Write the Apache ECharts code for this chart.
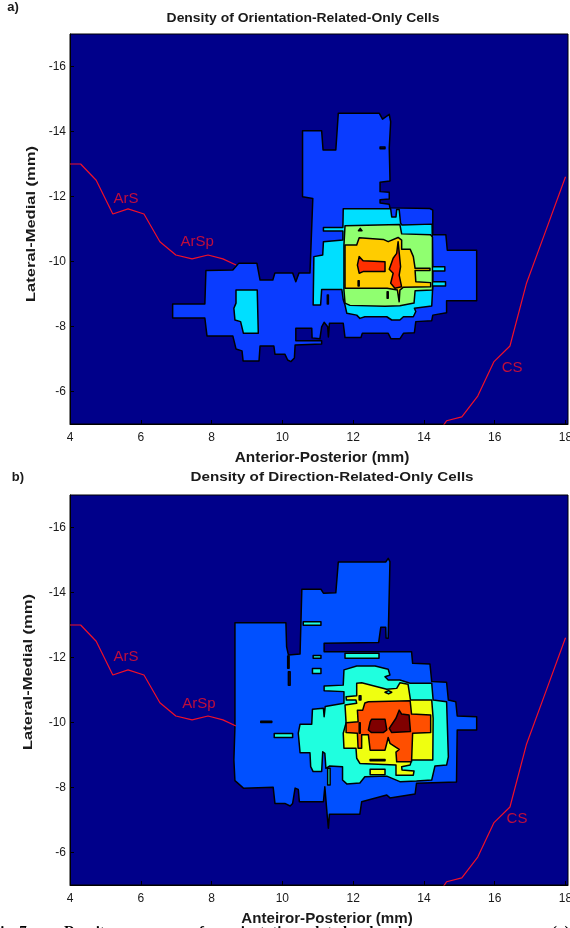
<!DOCTYPE html>
<html><head><meta charset="utf-8">
<style>html,body{margin:0;padding:0;background:#fff;overflow:hidden}#c{width:570px;height:928px}</style>
<script src="https://cdn.jsdelivr.net/npm/echarts@6/dist/echarts.min.js"></script>
</head><body><div id="c"></div>
<script>
const xTicks=[4,6,8,10,12,14,16,18];
const yTicks=[-16,-14,-12,-10,-8,-6];
const sulcus=[[4,-13],[4.3,-13],[4.74,-12.5],[5.21,-11.46],[5.64,-11.62],[6.09,-11.46],[6.54,-10.61],[6.99,-10.2],[7.45,-10.08],[7.9,-10.2],[8.32,-10.08],[8.69,-9.89]];
const cs=[[18,-12.61],[17.42,-10.88],[16.9,-9.34],[16.43,-7.4],[15.98,-6.92],[15.52,-5.86],[15.07,-5.22],[14.64,-5.1],[14.54,-4.94]];
const labelsA=[['ArS',5.58,-11.92],['ArSp',7.59,-10.6],['CS',16.49,-6.72]];
const labelsB=[['ArS',5.58,-12.02],['ArSp',7.64,-10.57],['CS',16.63,-7.03]];
const coloursA=['#00008a','#0a3cff','#00dfff','#90ff70','#ffcc00','#ff3000'];
const coloursB=['#00008a','#0050ff','#1fffdf','#efff10','#ff4f00','#800000'];

const a1=[[6.9,-8.69],[7.81,-8.69],[7.84,-9.72],[8.6,-9.74],[8.77,-9.95],[9.28,-9.95],[9.37,-9.43],[9.73,-9.43],[9.79,-9.65],[10.29,-9.65],[10.38,-9.38],[10.47,-9.65],[10.78,-9.65],[10.86,-11.94],[10.57,-11.99],[10.57,-14.02],[11.11,-14.02],[11.15,-13.43],[11.51,-13.43],[11.58,-14.56],[12.74,-14.56],[12.83,-14.38],[13.02,-14.53],[13.06,-14.3],[13.02,-13.49],[13.04,-12.57],[13.04,-12.48],[12.76,-12.44],[12.76,-12.15],[13.02,-12.13],[13.02,-11.92],[12.76,-11.9],[12.76,-11.8],[13.02,-11.76],[13.04,-11.65],[14.17,-11.63],[14.25,-11.58],[14.25,-10.82],[14.62,-10.82],[14.66,-10.35],[15.49,-10.35],[15.49,-8.79],[14.64,-8.79],[14.64,-8.42],[14.25,-8.35],[14.22,-8.18],[13.77,-8.15],[13.73,-7.81],[13.42,-7.79],[13.32,-7.62],[13.07,-7.62],[12.99,-7.79],[12.26,-7.79],[12.22,-7.66],[11.77,-7.66],[11.72,-8.1],[11.33,-8.1],[11.3,-7.68],[11.28,-7.99],[11.18,-8.13],[11.11,-7.99],[11.06,-7.62],[10.84,-7.65],[10.83,-7.95],[10.38,-7.95],[10.38,-7.56],[11.11,-7.56],[11.11,-7.46],[10.36,-7.43],[10.34,-7.03],[10.24,-6.92],[10.15,-6.97],[10.07,-7.15],[9.79,-7.15],[9.76,-7.4],[9.37,-7.4],[9.34,-6.94],[8.89,-6.94],[8.86,-7.25],[8.69,-7.31],[8.6,-7.71],[7.87,-7.71],[7.81,-8.26],[6.9,-8.26]];
const a2blob=[[8.69,-9.12],[9.29,-9.12],[9.32,-7.79],[8.9,-7.79],[8.82,-8.15],[8.66,-8.2],[8.63,-8.56],[8.69,-8.72]];
const a2=[[11.72,-11.62],[13.06,-11.62],[13.09,-11.37],[13.21,-11.37],[13.23,-11.6],[13.3,-11.6],[13.34,-11.18],[13.38,-11.12],[14.23,-11.15],[14.25,-9.84],[14.59,-9.84],[14.59,-9.71],[14.25,-9.71],[14.25,-9.38],[14.61,-9.38],[14.61,-9.25],[14.25,-9.25],[14.22,-8.63],[13.73,-8.56],[13.77,-8.46],[13.7,-8.3],[13.42,-8.3],[13.32,-8.2],[13.09,-8.2],[12.95,-8.3],[12.33,-8.3],[12.19,-8.25],[12.1,-8.35],[11.82,-8.41],[11.77,-8.66],[11.72,-8.82],[11.68,-9.14],[11.11,-9.14],[11.08,-8.66],[10.87,-8.66],[10.89,-10.15],[11.14,-10.2],[11.16,-10.61],[11.71,-10.66],[11.71,-10.94],[11.16,-10.94],[11.16,-11.05],[11.71,-11.05]];
const a3=[[11.77,-11.1],[13.32,-11.14],[13.37,-10.85],[14.19,-10.82],[14.24,-10.75],[14.24,-9.12],[13.75,-9.1],[13.72,-8.72],[13.32,-8.64],[12.9,-8.62],[11.91,-8.65],[11.77,-8.72],[11.74,-9.12],[11.74,-10.51]];
const a4=[[12.17,-10.73],[12.85,-10.68],[12.99,-10.61],[13.27,-10.74],[13.37,-10.66],[13.37,-10.38],[13.61,-10.38],[13.7,-10.15],[13.75,-9.79],[14.17,-9.79],[14.17,-9.72],[13.75,-9.72],[13.77,-9.38],[14.19,-9.35],[14.19,-9.22],[13.42,-9.21],[13.32,-9.12],[13.3,-8.76],[13.25,-9.12],[12.96,-9.18],[11.77,-9.18],[11.77,-10.51],[12.1,-10.51]];
const a5left=[[12.17,-10.15],[12.28,-10.02],[12.9,-9.99],[12.9,-9.69],[12.28,-9.69],[12.17,-9.64],[12.12,-9.89]];
const a5right=[[13.27,-10.61],[13.34,-9.84],[13.3,-9.58],[13.37,-9.22],[13.18,-9.18],[13.06,-9.33],[13.13,-9.64],[13.02,-9.76],[13.13,-10.1],[13.23,-10.25]];
const aSlit1=[[12.76,-13.52],[12.9,-13.52],[12.9,-13.47],[12.76,-13.47]];
const aSlit2=[[11.27,-8.97],[11.3,-8.97],[11.3,-8.69],[11.27,-8.69]];
const aSlit3=[[12.96,-9.07],[12.99,-9.07],[12.99,-8.87],[12.96,-8.87]];
const aSlit4=[[12.14,-9.41],[12.17,-9.41],[12.17,-9.25],[12.14,-9.25]];
const aSlit5=[[12.15,-10.95],[12.2,-11.02],[12.25,-10.95]];

const b1=[[8.66,-13.07],[10.1,-13.07],[10.12,-12.33],[10.17,-12.08],[10.5,-12.11],[10.55,-14.1],[11.09,-14.1],[11.16,-13.98],[11.51,-13.99],[11.58,-14.94],[12.92,-14.94],[12.99,-15.05],[13.04,-14.95],[12.99,-12.59],[12.93,-12.6],[12.92,-12.93],[12.78,-12.93],[12.72,-12.46],[11.18,-12.44],[11.18,-12.18],[13.65,-12.18],[13.68,-11.82],[14.17,-11.8],[14.22,-11.26],[14.64,-11.24],[14.69,-10.69],[14.9,-10.64],[14.94,-10.2],[15.49,-10.18],[15.49,-9.77],[14.94,-9.77],[14.92,-8.17],[13.79,-8.13],[13.75,-7.8],[13.04,-7.68],[12.95,-7.77],[12.24,-7.56],[12.19,-7.18],[11.33,-7.18],[11.3,-6.75],[11.27,-7.1],[11.2,-8.02],[11.16,-7.56],[10.48,-7.56],[10.45,-7.94],[10.36,-7.98],[10.29,-7.51],[10.22,-7.43],[10.07,-7.51],[9.79,-7.51],[9.74,-8.01],[8.9,-7.98],[8.66,-8.21],[8.63,-8.85],[8.66,-9.87]];
const b2=[[11.74,-11.62],[12.1,-11.74],[12.62,-11.74],[12.99,-11.64],[13.04,-11.46],[12.9,-11.41],[12.99,-11.31],[13.32,-11.31],[13.61,-11.21],[14.22,-11.21],[14.26,-10.69],[14.64,-10.64],[14.69,-8.94],[14.64,-8.69],[14.31,-8.66],[14.22,-8.23],[13.79,-8.2],[13.32,-8.18],[12.95,-8.35],[12.33,-8.33],[12.19,-8.14],[11.82,-8.11],[11.7,-8.23],[11.7,-8.64],[11.33,-8.66],[11.23,-8.59],[11.2,-9.05],[11.14,-9.1],[11.11,-8.49],[10.87,-8.49],[10.8,-8.64],[10.78,-9.07],[10.5,-9.07],[10.45,-9.67],[10.5,-9.95],[10.83,-9.95],[10.85,-10.41],[11.16,-10.44],[11.18,-10.18],[11.21,-10.49],[11.74,-10.59],[11.74,-10.95],[11.18,-10.98],[11.18,-11.12],[11.72,-11.15]];
const b3=[[12.1,-11.21],[12.24,-11.22],[12.95,-11.02],[13.23,-11.05],[13.32,-11.22],[13.55,-11.18],[13.62,-10.69],[14.22,-10.69],[14.26,-10.13],[14.25,-8.85],[13.65,-8.85],[13.61,-8.69],[13.37,-8.64],[13.38,-8.54],[13.72,-8.51],[13.7,-8.38],[13.21,-8.38],[13.21,-8.69],[12.19,-8.74],[12.1,-8.9],[12.08,-9.21],[11.74,-9.21],[11.72,-9.67],[11.8,-9.99],[11.77,-10.54],[12.1,-10.59],[12.08,-10.69],[11.81,-10.69],[11.8,-10.79],[12.1,-10.82]];
const b3small=[[12.48,-8.56],[12.9,-8.56],[12.9,-8.39],[12.48,-8.39]];
const b4=[[12.43,-10.64],[13.61,-10.67],[13.65,-10.26],[14.19,-10.23],[14.19,-9.69],[13.68,-9.67],[13.65,-8.79],[13.23,-8.79],[13.21,-9.09],[13.3,-9.17],[13.04,-9.36],[12.99,-9.54],[12.95,-9.36],[12.9,-9.15],[12.48,-9.15],[12.43,-9.62],[12.24,-9.62],[12.24,-9.21],[12.14,-9.21],[12.12,-9.67],[11.8,-9.69],[11.8,-9.99],[12.14,-10.02],[12.12,-10.38],[12.27,-10.38],[12.33,-10.6]];
const b5left=[[12.52,-10.1],[12.9,-10.1],[12.95,-9.77],[12.85,-9.69],[12.52,-9.69],[12.43,-9.77],[12.48,-10.02]];
const b5right=[[13.3,-10.38],[13.37,-10.26],[13.58,-10.23],[13.62,-9.72],[13.09,-9.69],[13.02,-9.82],[13.21,-10.13]];
const bTeal1=[[10.59,-13.1],[11.09,-13.1],[11.09,-12.99],[10.59,-12.99]];
const bTeal2=[[10.87,-12.06],[11.09,-12.06],[11.09,-11.98],[10.87,-11.98]];
const bTeal3=[[10.85,-11.66],[11.09,-11.66],[11.09,-11.51],[10.85,-11.51]];
const bTeal4=[[11.77,-12.13],[12.73,-12.13],[12.73,-11.98],[11.77,-11.98]];
const bTeal5=[[9.77,-9.66],[10.29,-9.66],[10.29,-9.54],[9.77,-9.54]];
const bTeal6=[[11.28,-8.59],[11.35,-8.59],[11.35,-8.08],[11.28,-8.08]];
const bEye=[[12.9,-10.93],[13,-10.98],[13.09,-10.93],[13,-10.88]];
const bSlit1=[[10.15,-12.05],[10.19,-12.05],[10.19,-11.67],[10.15,-11.67]];
const bSlit2=[[10.17,-11.56],[10.22,-11.56],[10.22,-11.15],[10.17,-11.15]];
const bSlit3=[[9.39,-10.04],[9.7,-10.04],[9.7,-10],[9.39,-10]];
const bSlit4=[[12.48,-8.86],[12.9,-8.86],[12.9,-8.82],[12.48,-8.82]];
const bSlit5=[[12.17,-10.82],[12.22,-10.82],[12.22,-10.69],[12.17,-10.69]];
const bSlit6=[[12.17,-9.99],[12.2,-9.99],[12.2,-9.67],[12.17,-9.67]];

const regionsA=[[1,a1],[0,aSlit1],[0,aSlit2],[2,a2blob],[2,a2],[3,a3],[3,aSlit5],[4,a4],[5,a5left],[5,a5right],[0,aSlit3],[0,aSlit4]];
const regionsB=[[1,b1],[0,bSlit1],[0,bSlit2],[0,bSlit3],[2,bTeal1],[2,bTeal2],[2,bTeal3],[2,bTeal4],[2,bTeal5],[2,bTeal6],[2,b2],[3,b3],[3,b3small],[2,bEye],[0,bSlit4],[0,bSlit5],[4,b4],[3,bSlit6],[5,b5left],[5,b5right]];

const red='#f01028',ink='#1a1a1a';
function contour(regions,colours,idx){
  return {type:'custom',xAxisIndex:idx,yAxisIndex:idx,coordinateSystem:'cartesian2d',silent:true,clip:true,z:2,
    encode:{x:0,y:1},data:regions.map(r=>[r[1][0][0],r[1][0][1]]),
    renderItem:(p,api)=>{const r=regions[p.dataIndex];
      return {type:'polygon',shape:{points:r[1].map(q=>api.coord(q))},
        style:{fill:colours[r[0]],stroke:'#000',lineWidth:1.5,lineJoin:'round'}};}};
}
function line(d,idx){return {type:'line',xAxisIndex:idx,yAxisIndex:idx,data:d,showSymbol:false,silent:true,clip:true,z:3,lineStyle:{color:red,width:1.2}};}
function names(l,idx){return {type:'scatter',xAxisIndex:idx,yAxisIndex:idx,symbolSize:0,silent:true,z:4,
  data:l.map(t=>({value:[t[1],t[2]],label:{show:true,formatter:t[0],position:'inside',color:red,fontSize:15,fontFamily:'Liberation Sans'}}))};}
function xAxis(i){return {gridIndex:i,type:'value',min:4,max:18.07,
  axisLine:{show:true,onZero:false,lineStyle:{color:'#000'}},splitLine:{show:false},
  axisTick:{show:true,inside:true,length:4,customValues:xTicks,lineStyle:{color:'#000'}},
  axisLabel:{customValues:xTicks,color:ink,fontSize:12,margin:8,fontFamily:'Liberation Sans',hideOverlap:false,showMinLabel:true,showMaxLabel:true}};}
function yAxis(i){return {gridIndex:i,type:'value',min:-17,max:-5,inverse:true,
  axisLine:{show:true,onZero:false,lineStyle:{color:'#000'}},splitLine:{show:false},
  axisTick:{show:true,inside:true,length:4,customValues:yTicks,lineStyle:{color:'#000'}},
  axisLabel:{customValues:yTicks,color:ink,fontSize:12,margin:4,fontFamily:'Liberation Sans'}};}
function txt(s,x,y,size,rot,sx){return {type:'text',x:x,y:y,rotation:rot||0,scaleX:sx||1,silent:true,z:10,
  style:{text:s,fill:ink,font:'bold '+size+'px "Liberation Sans"',textAlign:'center',textVerticalAlign:'middle'}};}
function cap(s,x){return {type:'text',x:x,y:925,silent:true,z:9,style:{text:s,fill:'#000',font:'bold 15px "Liberation Serif"',textVerticalAlign:'top'}};}

const chart=echarts.init(document.getElementById('c'),null,{renderer:'canvas'});
chart.setOption({animation:false,backgroundColor:'#fff',
  grid:[{left:70,top:34,width:498,height:390,outerBoundsMode:'none',show:true,backgroundColor:coloursA[0],borderColor:'#000',borderWidth:1},
        {left:70,top:495,width:498,height:390,outerBoundsMode:'none',show:true,backgroundColor:coloursB[0],borderColor:'#000',borderWidth:1}],
  xAxis:[xAxis(0),xAxis(1)],yAxis:[yAxis(0),yAxis(1)],
  series:[contour(regionsA,coloursA,0),line(sulcus,0),line(cs,0),names(labelsA,0),
          contour(regionsB,coloursB,1),line(sulcus,1),line(cs,1),names(labelsB,1)],
  graphic:{elements:[
    txt('a)',13,7,13),txt('b)',18,477,13),
    txt('Density of Orientation-Related-Only Cells',303,18,13,0,1.07),
    txt('Density of Direction-Related-Only Cells',332,477,13,0,1.17),
    txt('Anterior-Posterior (mm)',322,458,14,0,1.1),
    txt('Anteiror-Posterior (mm)',327,919,14,0,1.08),
    txt('Lateral-Medial (mm)',31,224,13,Math.PI/2,1.27),
    txt('Lateral-Medial (mm)',28,672,13,Math.PI/2,1.27),
    cap('Fig. 7.',-9),cap('Density      maps      of      orientation-related      bands.',64),cap('(a)',552)
  ]}
});
</script></body></html>
